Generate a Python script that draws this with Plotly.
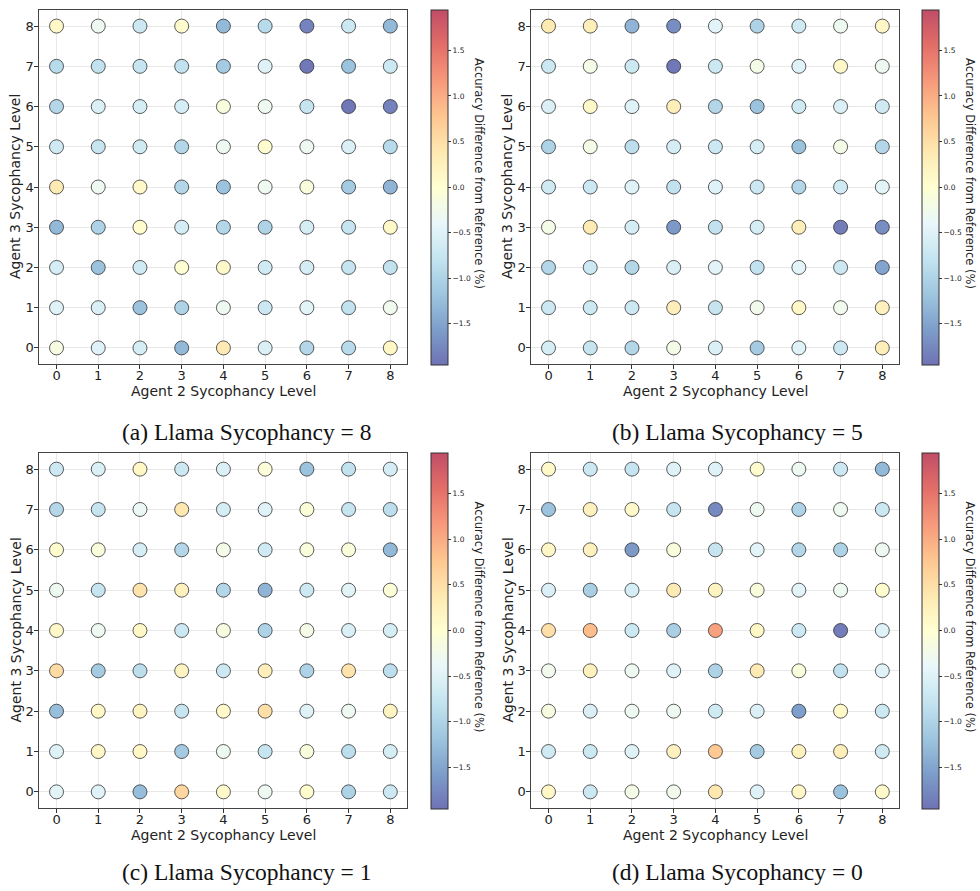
import plotly.graph_objects as go

# ---------------- data ----------------
agent2_levels = [0, 1, 2, 3, 4, 5, 6, 7, 8]
agent3_levels = [8, 7, 6, 5, 4, 3, 2, 1, 0]   # row order of the grids below (top row first)
axis_ticks = [0, 1, 2, 3, 4, 5, 6, 7, 8]
axis_ticktext = ["0", "1", "2", "3", "4", "5", "6", "7", "8"]
cbar_tickvals = [-1.5, -1.0, -0.5, 0.0, 0.5, 1.0, 1.5]
cbar_ticktext = ["\u22121.5", "\u22121.0", "\u22120.5", "0.0", "0.5", "1.0", "1.5"]
value_min, value_max = -1.95, 1.95
captions = ["(a) Llama Sycophancy = 8", "(b) Llama Sycophancy = 5",
            "(c) Llama Sycophancy = 1", "(d) Llama Sycophancy = 0"]
x_title = "Agent 2 Sycophancy Level"
y_title = "Agent 3 Sycophancy Level"
cbar_title = "Accuracy Difference from Reference (%)"

diff_llama8 = [
    [0.10, -0.30, -0.70, 0.05, -1.30, -0.90, -1.80, -0.70, -1.30],
    [-0.90, -0.80, -0.75, -0.80, -1.10, -0.50, -1.90, -1.20, -0.70],
    [-0.95, -0.55, -0.60, -0.60, -0.10, -0.30, -0.75, -1.90, -1.80],
    [-0.65, -0.75, -0.65, -0.95, -0.30, 0.05, -0.30, -0.55, -0.90],
    [0.35, -0.30, 0.10, -0.95, -1.20, -0.30, -0.10, -1.10, -1.35],
    [-1.30, -1.00, 0.05, -0.60, -0.95, -1.00, -0.60, -0.75, 0.10],
    [-0.60, -1.20, -0.65, 0.00, 0.10, -0.65, -0.60, -0.75, -0.80],
    [-0.50, -0.55, -1.20, -1.00, -0.30, -0.70, -0.45, -0.80, -0.25],
    [-0.15, -0.50, -0.60, -1.30, 0.35, -0.55, -0.95, -0.90, 0.15],
]
diff_llama5 = [
    [0.35, 0.30, -1.35, -1.70, -0.45, -1.00, -0.65, -0.30, 0.15],
    [-0.70, -0.20, -0.70, -1.90, -0.70, -0.20, -0.50, 0.10, -0.30],
    [-0.55, 0.10, -0.50, 0.30, -0.95, -1.20, -0.65, -0.55, -0.65],
    [-1.00, -0.20, -0.85, -0.60, -0.70, -0.60, -1.20, -0.20, -0.95],
    [-0.65, -0.70, -0.50, -0.80, -0.50, -0.70, -0.95, -0.65, -0.45],
    [-0.20, 0.35, -0.60, -1.60, -0.80, -0.60, 0.30, -1.85, -1.70],
    [-0.95, -0.70, -0.95, -0.55, -0.45, -0.80, -0.45, -0.70, -1.50],
    [-0.70, -0.70, -0.70, 0.30, -0.75, -0.25, 0.15, -0.25, 0.25],
    [-0.60, -0.75, -0.95, -0.20, -0.55, -1.10, -0.50, -0.70, 0.30],
]
diff_llama1 = [
    [-0.70, -0.55, 0.15, -0.70, -0.55, -0.05, -1.20, -0.80, -0.60],
    [-0.95, -0.75, -0.35, 0.40, -0.60, -0.50, -0.05, -0.75, -0.85],
    [0.05, -0.10, -0.60, -0.95, -0.20, -0.65, -0.10, -0.10, -1.30],
    [-0.30, -0.75, 0.45, 0.25, -0.95, -1.35, -0.70, -0.45, -0.05],
    [0.10, -0.30, 0.15, -0.70, -0.15, -1.00, -0.20, -0.55, -0.60],
    [0.55, -1.10, -0.85, 0.20, -0.70, 0.30, -1.00, 0.45, -0.85],
    [-1.25, 0.15, 0.20, -0.75, 0.10, 0.50, -0.50, -0.30, 0.20],
    [-0.50, 0.15, 0.15, -1.10, -0.30, -0.75, -0.10, -0.85, -0.60],
    [-0.45, -0.50, -1.25, 0.60, 0.10, -0.30, 0.05, -1.00, -0.70],
]
diff_llama0 = [
    [0.10, -0.70, -0.75, -0.50, -0.50, 0.05, -0.30, -0.70, -1.30],
    [-1.20, 0.25, 0.10, -0.75, -1.75, -0.30, -1.00, -0.30, -0.70],
    [0.15, 0.25, -1.60, -0.10, -0.75, -0.45, -0.95, -1.00, -0.30],
    [-0.55, -1.05, -0.60, 0.35, 0.20, -0.10, -0.45, -0.30, 0.05],
    [0.50, 0.85, -0.70, -1.05, 1.10, 0.15, -0.70, -1.85, -0.50],
    [-0.25, 0.25, -0.30, -0.50, -1.00, 0.35, -0.10, -0.80, -0.50],
    [-0.15, -0.55, -0.30, -0.30, -0.65, -0.55, -1.55, 0.10, -0.70],
    [-0.65, -0.70, -0.50, 0.25, 0.75, -1.10, 0.25, 0.30, -0.65],
    [0.15, -0.70, -0.20, -0.25, 0.40, -0.50, 0.15, -1.20, 0.10],
]
panels = [diff_llama8, diff_llama5, diff_llama1, diff_llama0]

# ---------------- styling ----------------
W, H = 980, 891
rdylbu_r = [(49, 54, 149), (69, 117, 180), (116, 173, 209), (171, 217, 233), (224, 243, 248),
            (255, 255, 191), (254, 224, 144), (253, 174, 97), (244, 109, 67), (215, 48, 39),
            (165, 0, 38)]
alpha = 0.7
colorscale = []
for i, (r, g, b) in enumerate(rdylbu_r):
    rr = round(alpha * r + (1 - alpha) * 255)
    gg = round(alpha * g + (1 - alpha) * 255)
    bb = round(alpha * b + (1 - alpha) * 255)
    colorscale.append([i / (len(rdylbu_r) - 1), f"rgb({rr},{gg},{bb})"])

# pixel boxes (left, right, top, bottom) of each plot area, and colorbar left edge
plot_boxes = [(39, 407, 10, 364), (531, 899, 10, 364), (39, 407, 453, 808), (531, 899, 453, 808)]
cbar_left = [431, 922, 431, 922]
caption_pos = [(246, 432), (737, 432), (246, 872), (737, 872)]

fig = go.Figure()
font_family = "DejaVu Sans"
txt_color = "#222"

for k, grid in enumerate(panels):
    xs, ys, cs = [], [], []
    for r, a3 in enumerate(agent3_levels):
        for c, a2 in enumerate(agent2_levels):
            xs.append(a2)
            ys.append(a3)
            cs.append(grid[r][c])
    sfx = "" if k == 0 else str(k + 1)
    left, right, top, bottom = plot_boxes[k]
    cb_center = 1 - ((top + bottom) / 2) / H
    fig.add_trace(go.Scatter(
        x=xs, y=ys, mode="markers",
        xaxis="x" + sfx, yaxis="y" + sfx,
        marker=dict(
            size=14, color=cs, colorscale=colorscale, cmin=value_min, cmax=value_max,
            line=dict(color="rgba(40,40,40,0.75)", width=1),
            showscale=True,
            colorbar=dict(
                x=cbar_left[k] / W, xanchor="left", xref="paper",
                y=cb_center, yanchor="middle",
                len=bottom - top + 1, lenmode="pixels",
                thickness=17, thicknessmode="pixels",
                outlinewidth=1, outlinecolor="#333",
                tickmode="array", tickvals=cbar_tickvals, ticktext=cbar_ticktext,
                ticks="outside", ticklen=3, tickcolor="#333",
                tickfont=dict(size=7.5, family=font_family, color=txt_color),
                xpad=0, ypad=0,
            ),
        ),
        showlegend=False, hoverinfo="x+y+text", text=[f"{v:.2f}" for v in cs],
    ))
    axis_common = dict(
        showline=True, mirror=True, linecolor="#444", linewidth=1.2,
        ticks="outside", ticklen=3.5, tickcolor="#333",
        showgrid=True, gridcolor="#e8e8e8", gridwidth=1, zeroline=False,
        tickmode="array", tickvals=axis_ticks, ticktext=axis_ticktext,
        tickfont=dict(size=13, family=font_family, color=txt_color),
    )
    fig.update_layout(**{
        "xaxis" + sfx: dict(axis_common, domain=[left / W, right / W], range=[-0.42, 8.4],
                            anchor="y" + sfx, ticklabelstandoff=-4),
        "yaxis" + sfx: dict(axis_common, domain=[1 - bottom / H, 1 - top / H], range=[-0.4, 8.4],
                            anchor="x" + sfx, ticklabelstandoff=-2),
    })
    # axis titles
    fig.add_annotation(
        x=(left + right) / 2 / W, y=1 - (bottom + 27) / H, xref="paper", yref="paper",
        text=x_title, showarrow=False, font=dict(size=14, family=font_family, color=txt_color),
        xanchor="center", yanchor="middle",
    )
    fig.add_annotation(
        x=(left - 24) / W, y=1 - ((top + bottom) / 2) / H, xref="paper", yref="paper",
        text=y_title, textangle=-90, showarrow=False,
        font=dict(size=14, family=font_family, color=txt_color),
        xanchor="center", yanchor="middle",
    )
    # colorbar label
    fig.add_annotation(
        x=(cbar_left[k] + 48) / W, y=1 - ((top + bottom) / 2 - 14) / H,
        xref="paper", yref="paper", text=cbar_title, textangle=90, showarrow=False,
        font=dict(size=11.5, family=font_family, color=txt_color), xanchor="center", yanchor="middle",
    )
    # caption
    cx, cy = caption_pos[k]
    fig.add_annotation(
        x=cx / W, y=1 - cy / H, xref="paper", yref="paper", text=captions[k], showarrow=False,
        font=dict(size=23.5, family="Liberation Serif", color="#111"), xanchor="center", yanchor="middle",
    )

fig.update_layout(
    width=W, height=H, margin=dict(l=0, r=0, t=0, b=0),
    paper_bgcolor="white", plot_bgcolor="white",
)

fig.write_html("out.html")
